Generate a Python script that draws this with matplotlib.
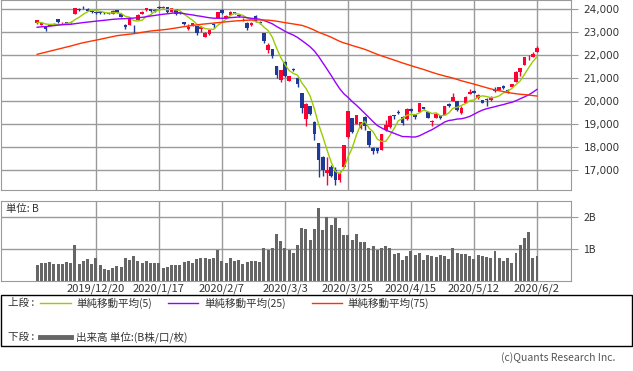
import numpy as np
import pandas as pd
import matplotlib.pyplot as plt
from matplotlib.patches import Rectangle
from matplotlib.lines import Line2D

plt.rcParams['font.family'] = ['Noto Sans CJK JP', 'DejaVu Sans']

# 日足データ 2019/12/2 - 2020/6/2
dates = ['2019/12/2', '2019/12/3', '2019/12/4', '2019/12/5', '2019/12/6', '2019/12/9', '2019/12/10',
         '2019/12/11', '2019/12/12', '2019/12/13', '2019/12/16', '2019/12/17', '2019/12/18', '2019/12/19',
         '2019/12/20', '2019/12/23', '2019/12/24', '2019/12/25', '2019/12/26', '2019/12/27', '2019/12/30',
         '2020/1/6', '2020/1/7', '2020/1/8', '2020/1/9', '2020/1/10', '2020/1/14', '2020/1/15', '2020/1/16',
         '2020/1/17', '2020/1/20', '2020/1/21', '2020/1/22', '2020/1/23', '2020/1/24', '2020/1/27',
         '2020/1/28', '2020/1/29', '2020/1/30', '2020/1/31', '2020/2/3', '2020/2/4', '2020/2/5', '2020/2/6',
         '2020/2/7', '2020/2/10', '2020/2/12', '2020/2/13', '2020/2/14', '2020/2/17', '2020/2/18',
         '2020/2/19', '2020/2/20', '2020/2/21', '2020/2/25', '2020/2/26', '2020/2/27', '2020/2/28',
         '2020/3/2', '2020/3/3', '2020/3/4', '2020/3/5', '2020/3/6', '2020/3/9', '2020/3/10', '2020/3/11',
         '2020/3/12', '2020/3/13', '2020/3/16', '2020/3/17', '2020/3/18', '2020/3/19', '2020/3/23',
         '2020/3/24', '2020/3/25', '2020/3/26', '2020/3/27', '2020/3/30', '2020/3/31', '2020/4/1',
         '2020/4/2', '2020/4/3', '2020/4/6', '2020/4/7', '2020/4/8', '2020/4/9', '2020/4/10', '2020/4/13',
         '2020/4/14', '2020/4/15', '2020/4/16', '2020/4/17', '2020/4/20', '2020/4/21', '2020/4/22',
         '2020/4/23', '2020/4/24', '2020/4/27', '2020/4/28', '2020/4/30', '2020/5/1', '2020/5/7',
         '2020/5/8', '2020/5/11', '2020/5/12', '2020/5/13', '2020/5/14', '2020/5/15', '2020/5/18',
         '2020/5/19', '2020/5/20', '2020/5/21', '2020/5/22', '2020/5/25', '2020/5/26', '2020/5/27',
         '2020/5/28', '2020/5/29', '2020/6/1', '2020/6/2']

opens = [23378, 23315, 23230, 23270, 23330, 23560, 23390, 23420, 23450, 23780, 24010, 24080, 24020, 23920,
         23870, 23850, 23850, 23810, 23790, 23960, 23770, 23320, 23320, 23217, 23530, 23800, 23960, 24000,
         23970, 24100, 24050, 24070, 23880, 24000, 23870, 23420, 23130, 23300, 23250, 23140, 22800, 22900,
         23340, 23600, 23950, 23620, 23740, 23870, 23760, 23500, 23400, 23290, 23680, 23450, 22950, 22200,
         22250, 21500, 20900, 21700, 20890, 21400, 21000, 20340, 19200, 19780, 19100, 18170, 17580, 16880,
         17150, 16990, 16570, 17150, 18446, 19250, 18980, 18813, 19300, 18690, 17960, 17950, 17890, 18750,
         18870, 19370, 19520, 19320, 19200, 19660, 19370, 19520, 19740, 19500, 19080, 19270, 19370, 19400,
         19850, 20000, 19990, 19460, 19920, 20320, 20440, 20130, 20030, 20080, 20040, 20470, 20480, 20640,
         20460, 20620, 20820, 21280, 21560, 21850, 21920, 22150]
highs = [23535, 23400, 23260, 23330, 23380, 23580, 23440, 23440, 23470, 24060, 24040, 24110, 24050, 23940,
         23880, 23870, 23870, 23830, 23960, 23960, 23780, 23365, 23580, 23300, 23770, 23900, 24060, 24010,
         23980, 24120, 24116, 24090, 24050, 24000, 23880, 23430, 23350, 23400, 23270, 23250, 23000, 23090,
         23400, 23890, 23995, 23740, 23900, 23880, 23770, 23630, 23420, 23420, 23740, 23460, 22970, 22500,
         22260, 21530, 21350, 21720, 21100, 21430, 21060, 20350, 19913, 19800, 19150, 18180, 17600, 17580,
         17220, 17130, 16970, 18100, 19564, 19260, 19390, 19090, 19330, 18700, 17980, 17960, 18580, 19160,
         19390, 19400, 19600, 19330, 19700, 19690, 19450, 19920, 19760, 19510, 19160, 19480, 19380, 19800,
         19920, 20365, 20000, 19790, 20200, 20534, 20490, 20300, 20060, 20110, 20200, 20600, 20620, 20700,
         20500, 20760, 21300, 21450, 21930, 21990, 22140, 22400]
lows = [23368, 23290, 23044, 23250, 23300, 23410, 23360, 23370, 23380, 23780, 23930, 24020, 23910, 23830,
        23800, 23800, 23800, 23770, 23780, 23820, 23640, 23150, 23290, 22951, 23520, 23780, 23930, 23880,
        23880, 24000, 24030, 23820, 23850, 23750, 23800, 23290, 23100, 23250, 22890, 22980, 22775, 22870,
        23180, 23590, 23780, 23600, 23720, 23780, 23650, 23490, 23100, 23260, 23450, 23340, 22500, 22100,
        21890, 21000, 20834, 21050, 20850, 21300, 20600, 19470, 18891, 19370, 18300, 16690, 16720, 16350,
        16710, 16358, 16480, 17140, 18400, 18620, 18980, 18800, 18750, 18000, 17710, 17740, 17860, 18700,
        18840, 19200, 19420, 18960, 19170, 19530, 19200, 19500, 19650, 19240, 18920, 19250, 19200, 19390,
        19730, 19990, 19580, 19440, 19900, 20300, 20340, 20100, 19900, 19800, 20000, 20390, 20460, 20520,
        20340, 20600, 20810, 21100, 21560, 21780, 21900, 22120]
closes = [23529.50, 23379.81, 23135.23, 23300.09, 23354.40, 23430.70, 23410.19, 23391.86, 23424.81,
          24023.10, 23952.35, 24066.12, 23934.43, 23864.85, 23816.63, 23821.11, 23830.58, 23782.87,
          23924.92, 23837.72, 23656.62, 23204.86, 23575.72, 23204.76, 23739.87, 23850.57, 24025.17,
          23916.58, 23933.13, 24041.26, 24083.51, 23864.56, 24031.35, 23795.44, 23827.18, 23343.51,
          23215.71, 23379.40, 22977.75, 23205.18, 22971.94, 23084.59, 23319.56, 23873.59, 23827.98,
          23685.98, 23861.21, 23827.73, 23687.59, 23523.24, 23193.80, 23400.70, 23479.15, 23386.74,
          22605.41, 22426.19, 21948.23, 21142.96, 21344.08, 21082.73, 21100.06, 21329.12, 20749.75,
          19698.76, 19867.12, 19416.06, 18559.63, 17431.05, 17002.04, 17011.53, 16726.55, 16552.83,
          16887.78, 18092.35, 19546.63, 18664.60, 19389.43, 19084.97, 18917.01, 18065.41, 17818.72,
          17820.19, 18576.30, 18950.18, 19353.24, 19345.77, 19498.50, 19043.40, 19638.81, 19550.09,
          19290.20, 19897.26, 19669.12, 19280.78, 19137.95, 19429.44, 19262.00, 19783.22, 19771.19,
          20193.69, 19619.35, 19674.77, 20179.09, 20390.66, 20366.48, 20267.05, 19914.78, 20037.47,
          20133.73, 20433.45, 20595.15, 20552.31, 20388.16, 20741.65, 21271.17, 21419.23, 21916.31,
          21877.89, 22062.39, 22325.61]

# 出来高 (B)
volume = [0.49, 0.57, 0.57, 0.60, 0.54, 0.54, 0.52, 0.60, 0.55, 1.14, 0.52, 0.64, 0.68, 0.54, 0.71, 0.49,
          0.39, 0.33, 0.40, 0.46, 0.43, 0.73, 0.65, 0.79, 0.61, 0.55, 0.64, 0.57, 0.55, 0.57, 0.40, 0.45,
          0.49, 0.51, 0.49, 0.58, 0.64, 0.55, 0.70, 0.73, 0.71, 0.69, 0.71, 0.96, 0.64, 0.55, 0.73, 0.64,
          0.67, 0.54, 0.58, 0.61, 0.64, 0.60, 1.04, 0.98, 1.04, 1.48, 1.24, 1.04, 0.96, 0.86, 1.11, 1.67,
          1.64, 1.27, 1.64, 2.29, 1.58, 1.99, 1.76, 1.98, 1.67, 1.45, 1.45, 1.27, 1.48, 1.21, 1.21, 1.04,
          1.08, 0.98, 1.04, 1.08, 1.04, 0.83, 0.86, 0.65, 0.79, 0.93, 0.80, 0.86, 0.65, 0.80, 0.77, 0.74,
          0.82, 0.77, 0.68, 1.03, 0.86, 0.83, 0.83, 0.77, 0.68, 0.80, 0.77, 0.74, 0.71, 0.93, 0.71, 0.62,
          0.71, 0.55, 0.86, 1.11, 1.35, 1.52, 0.71, 0.77]

# 移動平均の計算用（期間前の終値・チャートから読んだ値）
prior_closes = [23373.32, 23437.77, 23409.14, 23293.91]
ma25_head = [23205, 23225, 23235, 23255, 23275, 23300, 23315, 23325, 23335, 23360, 23385, 23410, 23430,
             23450, 23470, 23490, 23510, 23530, 23550, 23565, 23575, 23580, 23595, 23605]
ma75_head = [22030, 22075, 22120, 22165, 22210, 22255, 22300, 22345, 22390, 22440, 22490, 22535, 22572,
             22609, 22645, 22682, 22722, 22762, 22801, 22840, 22862, 22883, 22905, 22926, 22955, 22985,
             23014, 23043, 23061, 23079, 23098, 23116, 23145, 23174, 23203, 23232, 23257, 23282, 23308,
             23333, 23351, 23369, 23388, 23406, 23424, 23442, 23460, 23478, 23489, 23500, 23511, 23522,
             23525, 23525, 23522, 23515, 23495, 23470, 23440, 23406, 23378, 23350, 23320, 23290, 23230,
             23160, 23080, 22990, 22920, 22850, 22775, 22684, 22597, 22526]

tick_dates = ['2019/12/20', '2020/1/17', '2020/2/7', '2020/3/3', '2020/3/25', '2020/4/15',
              '2020/5/12', '2020/6/2']

df = pd.DataFrame({'open': opens, 'high': highs, 'low': lows, 'close': closes, 'vol': volume},
                  index=dates)
n = len(df)
x = np.arange(n)

c = pd.Series(closes)
ma5 = pd.Series(prior_closes + closes).rolling(5).mean().iloc[4:].values
ma25 = c.rolling(25).mean().values
ma25[:24] = ma25_head
ma75 = c.rolling(75).mean().values
ma75[:74] = ma75_head

UP = '#ff0033'
DOWN = '#1f3a96'
GRID = '#9a9a9a'
TXT = '#333333'

W, H = 633, 371
fig = plt.figure(figsize=(W / 100, H / 100), dpi=100)

# 上段
ax = fig.add_axes([1 / W, 1 - 190 / H, 570 / W, 190 / H])
ax.set_xlim(-8.6, 127.1)
ax.set_ylim(16130, 24391)
ax.set_axisbelow(True)

up = df['close'] >= df['open']
colors = np.where(up, UP, DOWN)
body_lo = np.minimum(df['open'], df['close'])
body_h = np.maximum(np.abs(df['close'] - df['open']), 18)
ax.vlines(x, df['low'], df['high'], colors=colors, linewidth=1, zorder=3)
ax.bar(x, body_h, bottom=body_lo, width=0.85, color=colors, linewidth=0, zorder=4)

ax.plot(x, ma5, color='#99cc00', linewidth=1, zorder=5)
ax.plot(x, ma25, color='#9900ff', linewidth=1, zorder=5)
ax.plot(x, ma75, color='#ff3300', linewidth=1, zorder=5)

tick_pos = [dates.index(d) for d in tick_dates]
ax.set_xticks(tick_pos)
ax.set_xticklabels([])
ax.tick_params(axis='x', length=0)
ax.set_yticks(range(17000, 24001, 1000))
ax.yaxis.tick_right()
ax.set_yticklabels([f'{v:,}' for v in range(17000, 24001, 1000)], family='DejaVu Sans')
ax.tick_params(axis='y', length=5, color=GRID, labelsize=7.5, labelcolor=TXT, pad=4)
ax.grid(True, color=GRID, linewidth=1)
for s in ax.spines.values():
    s.set_color(GRID)

# 下段（出来高）
axv = fig.add_axes([1 / W, 1 - 281 / H, 570 / W, 80 / H])
axv.set_xlim(-8.6, 127.1)
axv.set_ylim(0, 2.5)
axv.set_axisbelow(True)
axv.bar(x, df['vol'], width=0.7, color='#666666', linewidth=0, zorder=3)
axv.set_xticks(tick_pos)
axv.set_xticklabels(tick_dates)
axv.tick_params(axis='x', length=0, labelsize=8, labelcolor=TXT, pad=2)
axv.set_yticks([1, 2])
axv.yaxis.tick_right()
axv.set_yticklabels(['1B', '2B'])
axv.tick_params(axis='y', length=5, color=GRID, labelsize=7.5, labelcolor=TXT, pad=4)
axv.grid(True, color=GRID, linewidth=1)
for s in axv.spines.values():
    s.set_color(GRID)
axv.text(5 / 570, 0.9, '単位: B', transform=axv.transAxes, fontsize=7.5, color=TXT,
         ha='left', va='center')

# 凡例
leg = fig.add_axes([0, 0, 1, 1], facecolor='none')
leg.set_xlim(0, W)
leg.set_ylim(H, 0)
leg.axis('off')
leg.add_patch(Rectangle((0.5, 295), 631.5, 51, fill=False, edgecolor='black', linewidth=1))
fs = 7.6
leg.text(8, 303, '上段 :', fontsize=fs, color=TXT, va='center')
leg.text(8, 337, '下段 :', fontsize=fs, color=TXT, va='center')
leg.add_line(Line2D([40, 71], [303, 303], color='#99cc00', linewidth=1))
leg.text(76, 303, '単純移動平均(5)', fontsize=fs, color=TXT, va='center')
leg.add_line(Line2D([168, 198], [303, 303], color='#9900ff', linewidth=1))
leg.text(204, 303, '単純移動平均(25)', fontsize=fs, color=TXT, va='center')
leg.add_line(Line2D([312, 342], [303, 303], color='#ff3300', linewidth=1))
leg.text(347, 303, '単純移動平均(75)', fontsize=fs, color=TXT, va='center')
leg.add_line(Line2D([40, 71], [337, 337], color='#666666', linewidth=3.5))
leg.text(76, 337, '出来高 単位:(B株/口/枚)', fontsize=fs, color=TXT, va='center')
leg.text(615, 358, '(c)Quants Research Inc.', fontsize=7.5, color='#555555', ha='right', va='center')

fig.savefig('out.png', dpi=100)
